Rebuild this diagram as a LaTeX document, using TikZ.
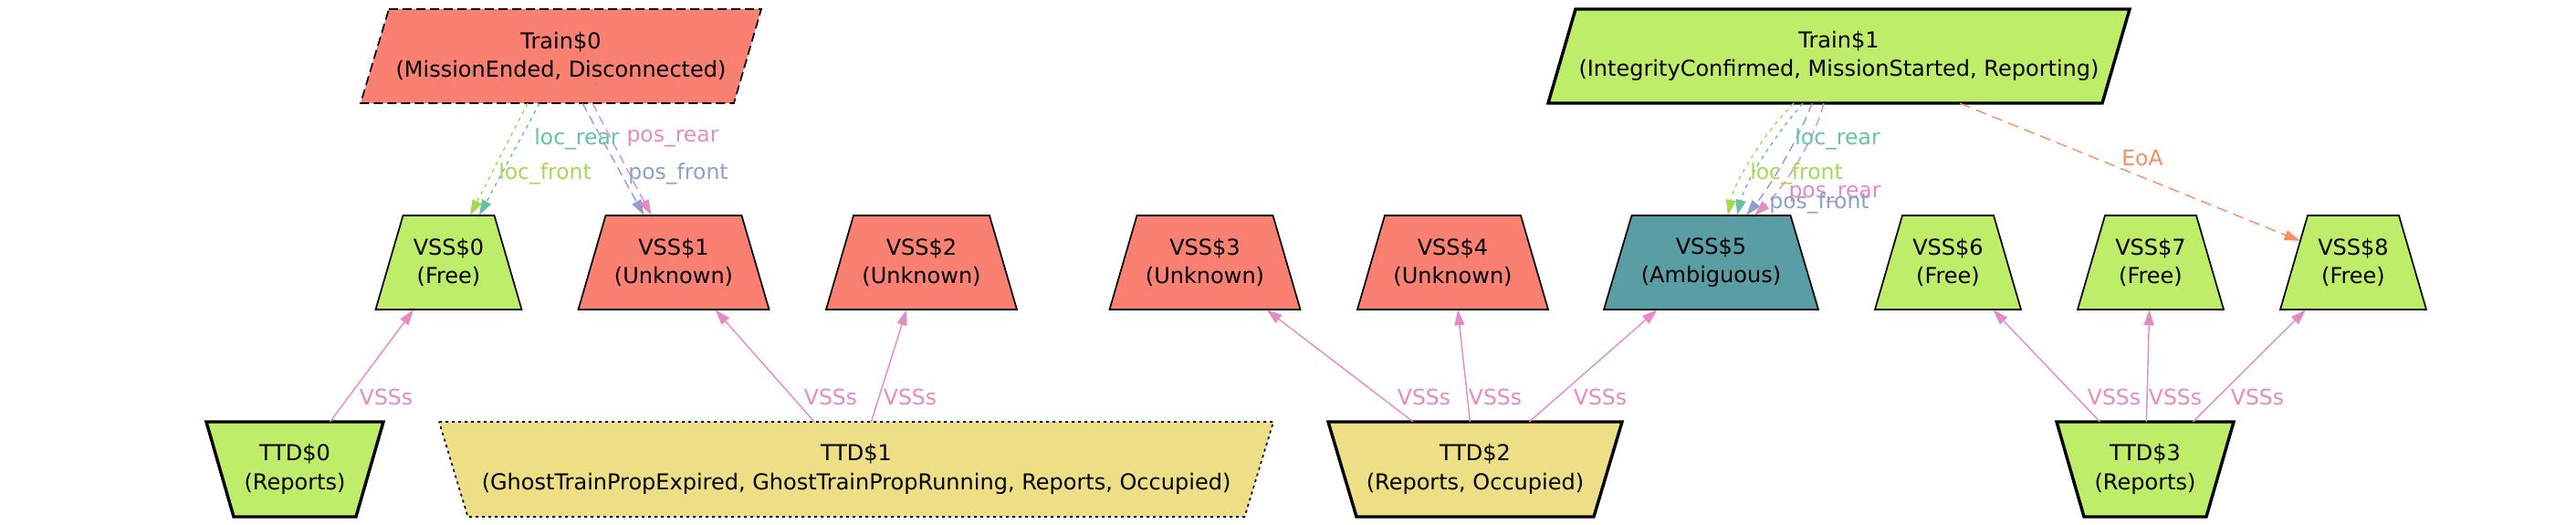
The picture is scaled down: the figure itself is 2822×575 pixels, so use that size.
\documentclass[tikz,border=0pt]{standalone}
\usepackage{fontspec}
\setmainfont{DejaVu Sans}
\usetikzlibrary{arrows.meta,calc}
\definecolor{csalmon}{HTML}{FA8072}
\definecolor{cgreen}{HTML}{BEED6A}
\definecolor{cteal}{HTML}{5A9EA5}
\definecolor{cyellow}{HTML}{EEDE86}
\definecolor{eteal}{HTML}{66C2A5}
\definecolor{eorange}{HTML}{FC8D62}
\definecolor{eblue}{HTML}{8DA0CB}
\definecolor{epink}{HTML}{E78AC3}
\definecolor{egreen}{HTML}{A6D854}
\newcommand\mkvss[6]{%
  \draw[shp, fill=#5] (#2-#3,236) -- (#2+#3,236) -- (#2+#4,339) -- (#2-#4,339) -- cycle;
  \node[nd, minimum width={2*#4}] (#1) at (#2,287.5) {#6};}
\newcommand\mkttd[7]{%
  \draw[shp, fill=#5, #6] (#2-#3,462) -- (#2+#3,462) -- (#2+#4,566) -- (#2-#4,566) -- cycle;
  \node[nd, minimum width={2*#3}, minimum height=104] (#1) at (#2,514) {#7};}
\begin{document}
\begin{tikzpicture}[x=1pt,y=-1pt,
  nd/.style={inner sep=0pt, minimum height=103, align=center, font=\fontsize{24}{31.5}\selectfont},
  shp/.style={line width=1.7, line join=miter, draw=black},
  thickb/.style={line width=3.4},
  conn/.style={line width=1.4, -{Triangle[length=17pt,width=11pt]}},
  dotd/.style={dash pattern=on 4pt off 5pt},
  dshd/.style={dash pattern=on 10pt off 6pt},
  lbl/.style={inner sep=0pt, font=\fontsize{23.5}{28}\selectfont}]
\useasboundingbox[fill=white] (0,0) rectangle (2822,575);

% Trains
\draw[shp, fill=csalmon, dash pattern=on 10pt off 5pt] (426,10) -- (834,10) -- (804,113) -- (395,113) -- cycle;
\node[nd, minimum width=439] (train0) at (614.5,61.5) {Train\$0\\(MissionEnded, Disconnected)};
\draw[shp, thickb, fill=cgreen] (1726,10) -- (2333,10) -- (2303,113) -- (1696,113) -- cycle;
\node[nd, minimum width=637] (train1) at (2014.5,61.5) {Train\$1\\(IntegrityConfirmed, MissionStarted, Reporting)};

% VSS
\mkvss{vss0}{491.5}{50}{80}{cgreen}{VSS\$0\\(Free)}
\mkvss{vss1}{738}{74.5}{104.5}{csalmon}{VSS\$1\\(Unknown)}
\mkvss{vss2}{1009.5}{74.5}{104.5}{csalmon}{VSS\$2\\(Unknown)}
\mkvss{vss3}{1320}{74.5}{104.5}{csalmon}{VSS\$3\\(Unknown)}
\mkvss{vss4}{1591.5}{74.5}{104.5}{csalmon}{VSS\$4\\(Unknown)}
\mkvss{vss5}{1874.5}{87}{117.5}{cteal}{VSS\$5\\(Ambiguous)}
\mkvss{vss6}{2134}{50}{80}{cgreen}{VSS\$6\\(Free)}
\mkvss{vss7}{2356}{50}{80}{cgreen}{VSS\$7\\(Free)}
\mkvss{vss8}{2578}{50}{80}{cgreen}{VSS\$8\\(Free)}

% TTD
\mkttd{ttd0}{323}{97}{67}{cgreen}{thickb}{TTD\$0\\(Reports)}
\mkttd{ttd1}{938}{457}{425.5}{cyellow}{dash pattern=on 3pt off 4pt}{TTD\$1\\(GhostTrainPropExpired, GhostTrainPropRunning, Reports, Occupied)}
\mkttd{ttd2}{1616}{161}{130}{cyellow}{thickb}{TTD\$2\\(Reports, Occupied)}
\mkttd{ttd3}{2350}{97}{67}{cgreen}{thickb}{TTD\$3\\(Reports)}

% Train0 edges
\draw[conn, egreen, dotd] ([xshift=-36.5]train0.south) -- ([xshift=23.5]vss0.north);
\draw[conn, eteal, dotd] ([xshift=-23.5]train0.south) -- ([xshift=33.5]vss0.north);
\draw[conn, eblue, dshd] ([xshift=23.5]train0.south) -- ([xshift=-32.5]vss1.north);
\draw[conn, epink, dshd] ([xshift=34.5]train0.south) -- ([xshift=-24.5]vss1.north);
\node[lbl, text=eteal] (l0a) at (632,152) {loc\_rear};
\node[lbl, text=egreen] (l0b) at (597,190) {loc\_front};
\node[lbl, text=epink] (l0c) at (737,152) {pos\_rear};
\node[lbl, text=eblue] (l0d) at (743,190) {pos\_front};

% Train1 edges
\draw[conn, egreen, dotd] ([xshift=-49.5]train1.south) .. controls +(-30,30) and +(8,-40) .. ([xshift=18.5]vss5.north);
\draw[conn, eteal, dotd] ([xshift=-39.5]train1.south) .. controls +(-28,32) and +(10,-40) .. ([xshift=28.5]vss5.north);
\draw[conn, eblue, dshd] ([xshift=-29.5]train1.south) .. controls +(-15,40) and +(25,-30) .. ([xshift=38.5]vss5.north);
\draw[conn, epink, dshd] ([xshift=-16.5]train1.south) .. controls +(-12,45) and +(30,-28) .. ([xshift=47.5]vss5.north);
\draw[conn, eorange, dash pattern=on 12pt off 7pt, shorten >=63pt] ([xshift=132.5]train1.south) -- (vss8.center);
\node[lbl, text=eteal] (l1a) at (2013,152) {loc\_rear};
\node[lbl, text=egreen] (l1b) at (1968,190) {loc\_front};
\node[lbl, text=epink] (l1c) at (2010,213) {pos\_rear};
\node[lbl, text=eblue] (l1d) at (1993,222) {pos\_front};
\node[lbl, text=eorange] (l1e) at (2347,173) {EoA};

% TTD -> VSS
\draw[conn, epink] (ttd0) -- (vss0);
\draw[conn, epink] (ttd1) -- (vss1);
\draw[conn, epink] (ttd1) -- (vss2);
\draw[conn, epink] (ttd2) -- (vss3);
\draw[conn, epink] (ttd2) -- (vss4);
\draw[conn, epink] (ttd2) -- (vss5);
\draw[conn, epink] (ttd3) -- (vss6);
\draw[conn, epink] (ttd3) -- (vss7);
\draw[conn, epink] (ttd3) -- (vss8);
\foreach \n/\x in {s0/423, s1/910, s2/997, s3/1560, s4/1638, s5/1753, s6/2316, s7/2383, s8/2473}
  \node[lbl, text=epink] (\n) at (\x,435) {VSSs};
\end{tikzpicture}
\end{document}
